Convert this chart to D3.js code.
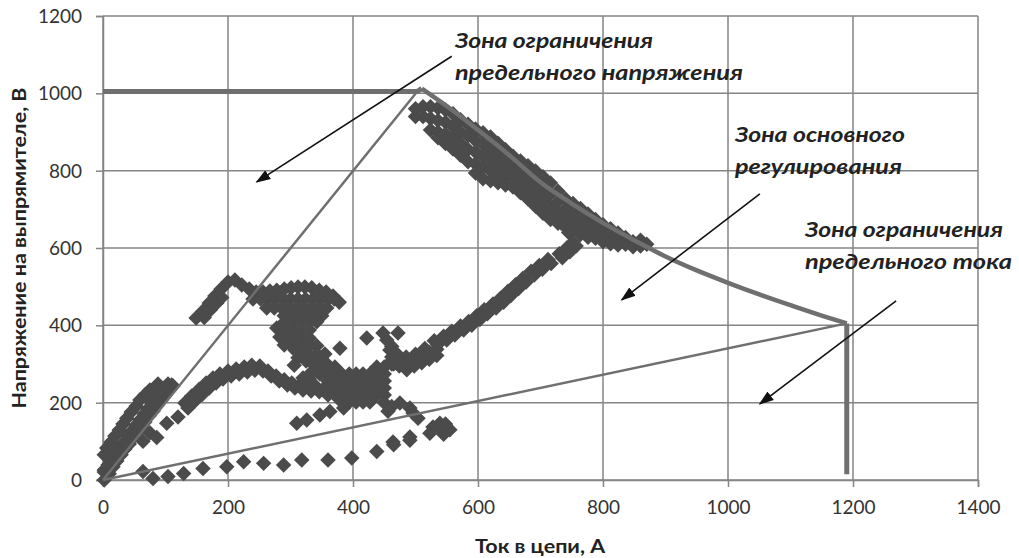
<!DOCTYPE html>
<html>
<head>
<meta charset="utf-8">
<script src="https://cdn.jsdelivr.net/npm/d3@7"></script>
<style>
  body { margin: 0; background: #fff; }
  svg { display: block; }
</style>
</head>
<body>
<svg width="1019" height="558"></svg>
<script>
// axis ticks
var xTicks = [0, 200, 400, 600, 800, 1000, 1200, 1400];
var yTicks = [0, 200, 400, 600, 800, 1000, 1200];

// boundary lines of the zones (current A, voltage V)
var voltageLimit = [[0, 1005], [503, 1005], [510, 1012]];
var powerCurve = [[510, 1012], [560, 955], [600, 905], [650, 840], [700, 770], [750, 715], [800, 665],
  [850, 620], [900, 578], [950, 542], [1000, 510], [1050, 480], [1100, 452], [1150, 425], [1190, 405]];
var currentLimit = [[1190, 405], [1190, 15]];
var upperRay = [[0, 0], [508, 1015]];
var lowerRay = [[0, 0], [1190, 405]];

var ptsOrigin = [[2, 0], [2, 26], [2, 21], [8, 39], [14, 54], [21, 70], [27, 85], [34, 98], [40, 114], [46, 127],
  [53, 142], [59, 155], [66, 171], [72, 184], [78, 199], [85, 212], [91, 225], [98, 238], [104, 248], [110, 246],
  [2, 65], [6, 83], [13, 98], [19, 114], [26, 129], [32, 145], [38, 160], [45, 176], [53, 191], [59, 207],
  [67, 220], [75, 233], [88, 248],
  [10, 16], [16, 34], [22, 49], [29, 65], [35, 80], [42, 93], [48, 109], [54, 122], [61, 137], [67, 150],
  [74, 166], [80, 178], [86, 194], [93, 207], [99, 220], [106, 233], [112, 243]];
var ptsSteps = [[75, 122], [64, 100], [86, 110], [102, 147], [120, 163], [139, 199]];
var ptsArm = [[131, 199], [142, 217], [154, 235], [165, 251], [176, 264], [187, 274], [200, 282], [213, 287],
  [226, 292], [238, 297], [251, 295], [264, 282], [277, 269], [290, 259], [302, 251], [315, 246], [328, 243],
  [341, 241], [354, 238],
  [136, 186], [147, 204], [159, 222], [170, 238], [181, 251], [192, 261], [205, 269], [218, 274], [231, 279],
  [243, 284], [256, 282], [269, 269], [282, 256], [295, 246], [307, 238], [320, 233], [333, 230], [346, 228]];
var ptsTop = [[149, 419], [160, 437], [170, 458], [179, 476], [189, 494], [200, 512], [211, 517], [222, 504],
  [234, 494], [245, 486], [256, 486], [267, 489], [278, 491], [290, 494], [301, 497], [312, 499], [323, 499],
  [334, 497], [346, 491], [357, 486], [368, 476], [378, 460],
  [162, 420], [172, 440], [182, 458], [190, 472],
  [240, 468], [252, 468], [264, 468], [276, 468], [288, 468], [300, 468], [312, 468], [324, 468], [336, 468],
  [348, 468], [360, 468], [370, 468],
  [262, 445], [274, 445], [286, 445], [298, 445], [310, 445], [322, 445], [334, 445], [346, 445], [358, 445],
  [290, 425], [302, 425], [314, 425], [326, 425], [338, 425], [350, 425]];
var ptsMiddle = [[278, 393], [291, 388], [283, 370], [296, 362], [290, 349], [302, 349],
  [307, 336], [318, 331], [330, 323], [341, 316], [352, 308], [312, 316], [325, 308], [336, 300], [347, 292],
  [306, 297], [334, 279], [347, 274],
  [291, 409], [304, 409], [317, 409], [330, 409], [342, 409],
  [304, 388], [317, 388], [330, 388],
  [304, 367], [317, 367], [330, 367],
  [317, 347], [330, 347], [342, 347],
  [342, 326], [355, 326], [355, 305], [320, 264], [330, 262],
  [360, 292], [360, 274], [360, 256], [360, 238], [360, 220],
  [371, 292], [371, 274], [371, 256], [371, 238], [371, 220],
  [382, 274], [382, 256], [382, 238], [382, 220], [382, 202],
  [394, 274], [394, 256], [394, 238], [394, 220], [394, 202],
  [405, 274], [405, 256], [405, 238], [405, 220], [405, 202],
  [416, 274], [416, 256], [416, 238], [416, 220], [416, 202],
  [427, 274], [427, 256], [427, 238], [427, 220], [427, 202],
  [438, 292], [438, 274], [438, 256], [438, 238], [438, 220],
  [450, 292], [450, 274], [450, 256], [450, 238], [450, 220], [450, 200],
  [462, 318], [462, 300], [474, 318], [474, 295], [486, 310], [486, 285], [498, 318], [498, 295],
  [510, 323], [510, 303], [522, 330], [522, 312], [534, 338], [534, 322],
  [465, 300], [468, 330], [462, 345], [462, 190], [456, 178]];
var ptsScatter = [[379, 341], [422, 367], [448, 380], [472, 380], [459, 336], [454, 362],
  [475, 199], [491, 186], [504, 160], [528, 137], [496, 173], [539, 147], [491, 111], [464, 98], [542, 129],
  [548, 145], [555, 130], [545, 118],
  [310, 147], [326, 155], [347, 168], [363, 177], [385, 186]];
var ptsBottom = [[64, 22], [80, 4], [104, 9], [129, 17], [160, 30], [198, 34], [225, 47], [257, 43], [289, 39],
  [318, 52], [360, 52], [398, 57], [438, 74], [465, 91], [491, 103], [523, 121]];
var ptsReturn = [[733, 665], [745, 640], [752, 615], [742, 600], [730, 585], [712, 570], [698, 555], [685, 540],
  [672, 522], [660, 505], [648, 488], [636, 470], [624, 455], [610, 440], [598, 425], [585, 410], [572, 398],
  [558, 385], [545, 372], [530, 360], [515, 340], [500, 325], [485, 318], [472, 310], [460, 305],
  [757, 605], [747, 590], [735, 575], [717, 560], [703, 545], [690, 530], [677, 512], [665, 495], [653, 478],
  [641, 460], [629, 445], [615, 430], [603, 415], [590, 400], [577, 388], [563, 375], [550, 362], [535, 350],
  [520, 330], [505, 315], [490, 308]];
var ptsBand = [[500, 940], [500, 960], [512, 965], [512, 940],
  [524, 965], [524, 935], [524, 905],
  [536, 962], [536, 930], [536, 900], [536, 885],
  [548, 957], [548, 925], [548, 895], [548, 870],
  [560, 947], [560, 915], [560, 885], [560, 856],
  [572, 932], [572, 900], [572, 870], [572, 840],
  [584, 920], [584, 890], [584, 855], [584, 823],
  [596, 908], [596, 878], [596, 848], [596, 818], [596, 794],
  [608, 898], [608, 868], [608, 838], [608, 808], [608, 779],
  [620, 887], [620, 857], [620, 827], [620, 800], [620, 774],
  [632, 871], [632, 843], [632, 815], [632, 790], [632, 769],
  [644, 854], [644, 828], [644, 803], [644, 780], [644, 763],
  [656, 837], [656, 812], [656, 785], [656, 758],
  [668, 825], [668, 800], [668, 770], [668, 743],
  [680, 813], [680, 785], [680, 755], [680, 727],
  [692, 799], [692, 770], [692, 740], [692, 708],
  [704, 784], [704, 755], [704, 722], [704, 690],
  [716, 768], [716, 740], [716, 705], [716, 674],
  [728, 747], [728, 720], [728, 690], [728, 664],
  [740, 727], [740, 700], [740, 675], [740, 654],
  [752, 715], [752, 688], [752, 665], [752, 646],
  [764, 702], [764, 677], [764, 655], [764, 635],
  [776, 688], [776, 663], [776, 640], [776, 628],
  [788, 674], [788, 650], [788, 625],
  [800, 660], [800, 638], [800, 616],
  [812, 650], [812, 630], [812, 611],
  [824, 639], [824, 620], [824, 608],
  [836, 627], [836, 610], [848, 616], [848, 603],
  [860, 620], [860, 605], [870, 610]];

// zone labels and arrows (data units)
var zoneLines = [
  ["Зона ограничения", "предельного напряжения"],
  ["Зона основного", "регулирования"],
  ["Зона ограничения", "предельного тока"]
];
var zoneAnchors = [[563, 1117], [1011, 874], [1123, 628]];
var zoneWidths = [[198, 288], [170, 167], [198, 207]];
var arrowFrom = [[558, 1096], [1051, 740], [1269, 463]];
var arrowTo = [[246, 771], [830, 466], [1051, 197]];

var svg = d3.select('svg');
var margin = {left: 103, top: 16, right: 41, bottom: 78};
var width = 1019 - margin.left - margin.right;
var height = 558 - margin.top - margin.bottom;

var x = d3.scaleLinear().domain([0, 1400]).range([0, width]);
var y = d3.scaleLinear().domain([0, 1200]).range([height, 0]);

var g = svg.append('g').attr('transform', 'translate(' + margin.left + ',' + margin.top + ')');

var gridColor = '#858585';

// grid
g.selectAll('.vgrid').data(xTicks).enter().append('line')
  .attr('x1', function(d) { return x(d); }).attr('x2', function(d) { return x(d); })
  .attr('y1', 0).attr('y2', height)
  .attr('stroke', gridColor).attr('stroke-width', 1.5);
g.selectAll('.hgrid').data(yTicks).enter().append('line')
  .attr('y1', function(d) { return y(d); }).attr('y2', function(d) { return y(d); })
  .attr('x1', 0).attr('x2', width)
  .attr('stroke', gridColor).attr('stroke-width', 1.5);

// axes
var xAxis = g.append('g').attr('transform', 'translate(0,' + height + ')')
  .call(d3.axisBottom(x).tickValues(xTicks).tickSize(7).tickPadding(14).tickFormat(d3.format('d')));
var yAxis = g.append('g')
  .call(d3.axisLeft(y).tickValues(yTicks).tickSize(7).tickPadding(14).tickFormat(d3.format('d')));
[xAxis, yAxis].forEach(function(a) {
  a.select('.domain').attr('stroke', gridColor).attr('stroke-width', 1.5);
  a.selectAll('.tick line').attr('stroke', gridColor).attr('stroke-width', 1.5);
  a.selectAll('.tick text').attr('fill', '#333').style('font-family', 'Lato, sans-serif').style('font-size', '19px');
});
yAxis.selectAll('.tick text').attr('dy', '0.35em');

// axis titles
svg.append('text')
  .attr('x', 540).attr('y', 553)
  .attr('text-anchor', 'middle')
  .attr('textLength', 130).attr('lengthAdjust', 'spacingAndGlyphs')
  .style('font-family', 'Lato, sans-serif').style('font-weight', 'bold').style('font-size', '19px')
  .attr('fill', '#222')
  .text('Ток в цепи, А');
svg.append('text')
  .attr('transform', 'translate(26,' + 248 + ') rotate(-90)')
  .attr('text-anchor', 'middle')
  .attr('textLength', 321).attr('lengthAdjust', 'spacingAndGlyphs')
  .style('font-family', 'Lato, sans-serif').style('font-weight', 'bold').style('font-size', '19px')
  .attr('fill', '#222')
  .text('Напряжение на выпрямителе, В');

// scatter
var allPts = [].concat(ptsOrigin, ptsSteps, ptsArm, ptsTop, ptsMiddle, ptsScatter, ptsBottom, ptsReturn, ptsBand);
var diamond = d3.symbol().type(d3.symbolSquare).size(120);
g.selectAll('.pt').data(allPts).enter().append('path')
  .attr('d', diamond)
  .attr('transform', function(d) { return 'translate(' + x(d[0]) + ',' + y(d[1]) + ') rotate(45)'; })
  .attr('fill', '#4b4b4b');

// boundary lines
var line = d3.line().x(function(d) { return x(d[0]); }).y(function(d) { return y(d[1]); });
var smooth = d3.line().curve(d3.curveMonotoneX).x(function(d) { return x(d[0]); }).y(function(d) { return y(d[1]); });
var lineColor = '#6f6f6f';
g.append('path').datum(upperRay).attr('d', line).attr('fill', 'none').attr('stroke', lineColor).attr('stroke-width', 2.5);
g.append('path').datum(lowerRay).attr('d', line).attr('fill', 'none').attr('stroke', lineColor).attr('stroke-width', 2.5);
g.append('path').datum(voltageLimit).attr('d', line).attr('fill', 'none').attr('stroke', lineColor).attr('stroke-width', 5);
g.append('path').datum(powerCurve).attr('d', smooth).attr('fill', 'none').attr('stroke', lineColor).attr('stroke-width', 4.5);
g.append('path').datum(currentLimit).attr('d', line).attr('fill', 'none').attr('stroke', lineColor).attr('stroke-width', 5);

// arrows
svg.append('defs').append('marker')
  .attr('id', 'head').attr('viewBox', '0 0 10 10').attr('refX', 9).attr('refY', 5)
  .attr('markerWidth', 15).attr('markerHeight', 15).attr('markerUnits', 'userSpaceOnUse')
  .attr('orient', 'auto')
  .append('path').attr('d', 'M0,1.5L10,5L0,8.5Z').attr('fill', '#111');
g.selectAll('.arrow').data(arrowFrom).enter().append('line')
  .attr('x1', function(d) { return x(d[0]); }).attr('y1', function(d) { return y(d[1]); })
  .attr('x2', function(d, i) { return x(arrowTo[i][0]); }).attr('y2', function(d, i) { return y(arrowTo[i][1]); })
  .attr('stroke', '#111').attr('stroke-width', 1.6)
  .attr('marker-end', 'url(#head)');

// zone labels
zoneLines.forEach(function(lines, i) {
  var t = g.append('text')
    .style('font-family', 'Lato, sans-serif').style('font-weight', 'bold').style('font-style', 'italic')
    .style('font-size', '21px').attr('fill', '#222');
  lines.forEach(function(s, j) {
    t.append('tspan')
      .attr('x', x(zoneAnchors[i][0]))
      .attr('y', y(zoneAnchors[i][1]) + j * 32)
      .attr('textLength', zoneWidths[i][j]).attr('lengthAdjust', 'spacingAndGlyphs')
      .text(s);
  });
});
</script>
</body>
</html>
